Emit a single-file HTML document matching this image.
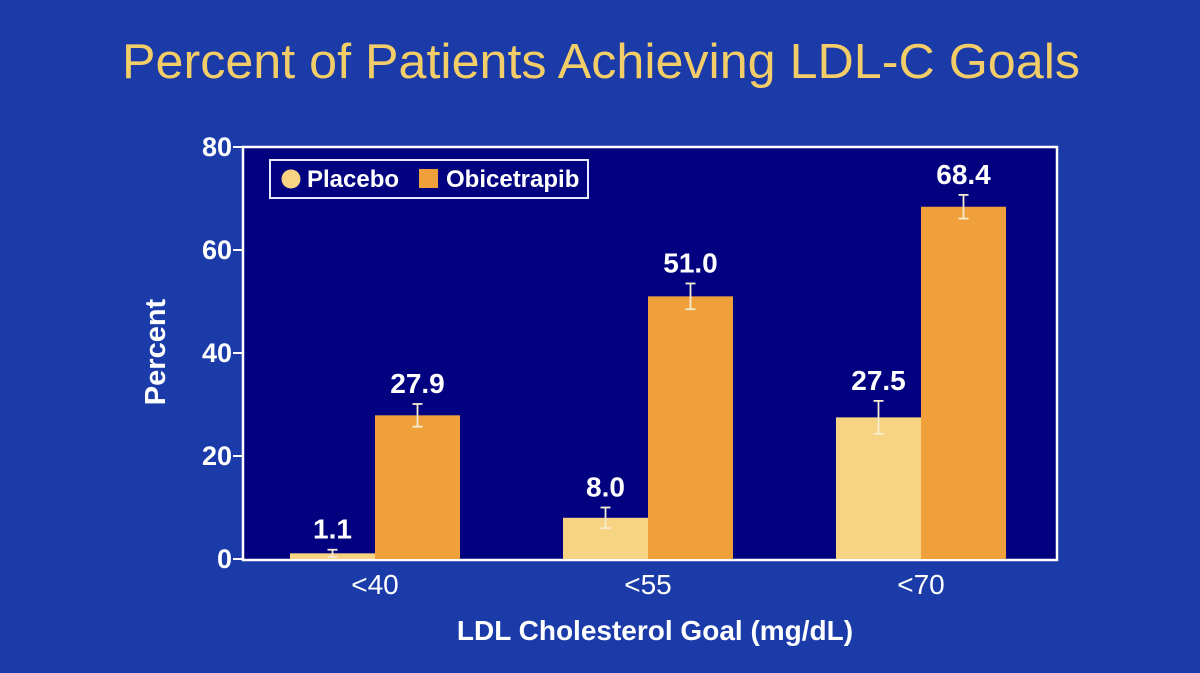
<!DOCTYPE html>
<html><head><meta charset="utf-8"><style>
html,body{margin:0;padding:0;background:#1a3ba8;}
svg{display:block;font-family:"Liberation Sans",Arial,sans-serif;}
</style></head><body>
<svg id="chart" width="1200" height="673" viewBox="0 0 1200 673">
<rect x="0" y="0" width="1200" height="673" fill="#1a3ba8"/>
<text x="601" y="78" text-anchor="middle" font-size="49" textLength="958" lengthAdjust="spacingAndGlyphs" fill="#f3cd68">Percent of Patients Achieving LDL-C Goals</text>
<rect x="243" y="147" width="814" height="413" fill="#020280" stroke="#ffffff" stroke-width="2.5"/>
<g id="yaxis"></g>
<g id="bars"></g>
<g id="xaxis"></g>
<text transform="translate(165,352) rotate(-90)" text-anchor="middle" font-size="29" font-weight="bold" fill="#ffffff">Percent</text>
<text x="655" y="640" text-anchor="middle" font-size="28" font-weight="bold" fill="#ffffff">LDL Cholesterol Goal (mg/dL)</text>
<g>
<rect x="270" y="160" width="318" height="38" fill="#020280" stroke="#e8e8ff" stroke-width="2"/>
<circle cx="291" cy="179" r="9.5" fill="#f7d483"/>
<text x="307" y="187" font-size="24" font-weight="bold" fill="#ffffff">Placebo</text>
<rect x="419" y="169" width="19" height="19" fill="#f0a03a"/>
<text x="446" y="187" font-size="24" font-weight="bold" fill="#ffffff">Obicetrapib</text>
</g>
</svg>
<script>
const categories = ["<40", "<55", "<70"];
const placebo = [1.1, 8.0, 27.5];
const obicetrapib = [27.9, 51.0, 68.4];
const placeboErr = [0.7, 2.0, 3.2];
const obicetrapibErr = [2.2, 2.5, 2.3];
const yTicks = [0, 20, 40, 60, 80];

const NS = "http://www.w3.org/2000/svg";
const y0 = 559, y80 = 147, xLeft = 243;
function yScale(v){ return y0 - (v/80)*(y0-y80); }
const groupStart = 290, groupStep = 273, barW = 85;
function xGroup(i){ return groupStart + i*groupStep; }
function mk(tag, attrs, parent){ const e=document.createElementNS(NS,tag); for(const k in attrs) e.setAttribute(k,attrs[k]); parent.appendChild(e); return e; }

const yaxis = document.getElementById('yaxis');
yTicks.forEach(t=>{
  const y = yScale(t);
  const l = mk('line',{x1:xLeft-10,x2:xLeft,y1:y,y2:y,stroke:'#ffffff','stroke-width':2},yaxis);
  
  
  const tx = mk('text',{x:xLeft-11,y:y+9,'text-anchor':'end','font-size':27,'font-weight':'bold',fill:'#ffffff'},yaxis);
  tx.textContent = t;
  
  
});

const bars = document.getElementById('bars');
const xaxis = document.getElementById('xaxis');
function drawBar(x, v, err, color, name){
  const top = yScale(v);
  const r = mk('rect',{x:x,y:top,width:barW,height:y0-top,fill:color},bars);
  
  
  const cx = x + barW/2, et = yScale(v+err), eb = yScale(Math.max(0,v-err));
  const g = mk('g',{stroke:'#f4ecd0','stroke-width':1.8},bars);
  
  
  mk('line',{x1:cx,x2:cx,y1:et,y2:eb},g);
  mk('line',{x1:cx-5,x2:cx+5,y1:et,y2:et},g);
  mk('line',{x1:cx-5,x2:cx+5,y1:eb,y2:eb},g);
  const lbl = mk('text',{x:cx,y:et-11,'text-anchor':'middle','font-size':28,'font-weight':'bold',fill:'#ffffff'},bars);
  lbl.textContent = v.toFixed(1);
  
  
}
categories.forEach((c,i)=>{
  const x = xGroup(i);
  drawBar(x, placebo[i], placeboErr[i], '#f7d483', 'bar-placebo');
  drawBar(x+barW, obicetrapib[i], obicetrapibErr[i], '#f0a03a', 'bar-obicetrapib');
  const t = mk('text',{x:x+barW,y:594,'text-anchor':'middle','font-size':28,fill:'#ffffff'},xaxis);
  t.textContent = c;
  
  
});
</script>
</body></html>
